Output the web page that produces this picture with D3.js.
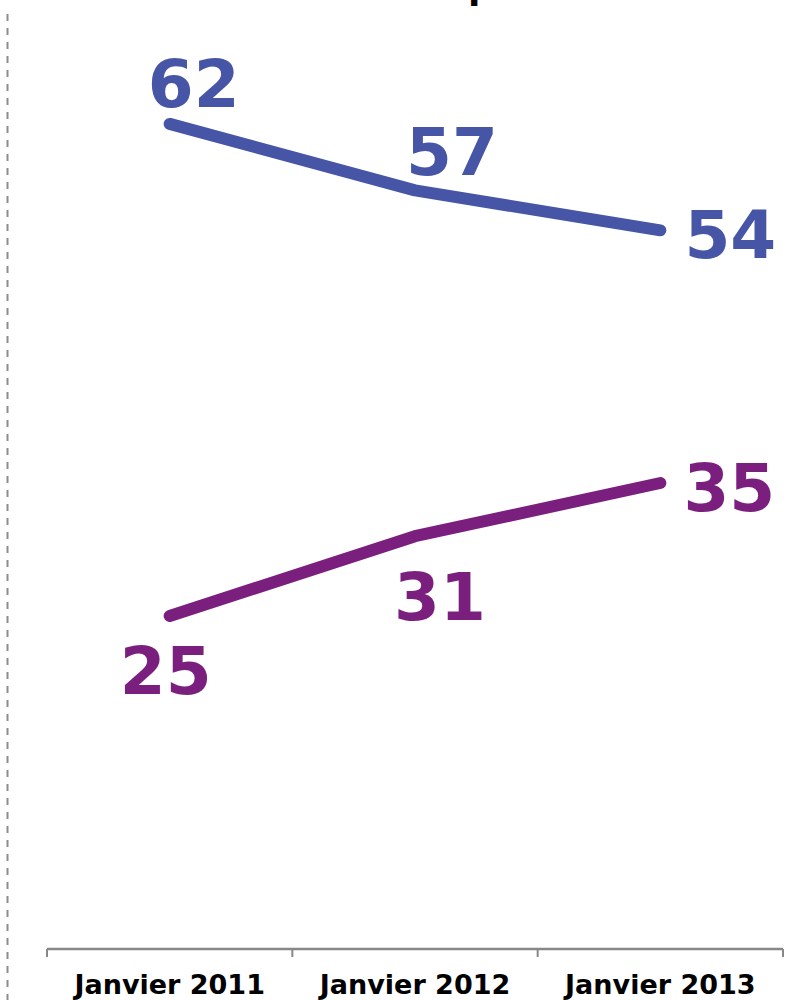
<!DOCTYPE html>
<html>
<head>
<meta charset="utf-8">
<script src="https://cdn.jsdelivr.net/npm/d3@7"></script>
<style>
  body { margin: 0; background: #fff; }
  svg { display: block; font-family: "DejaVu Sans", Verdana, sans-serif; }
</style>
</head>
<body>
<div id="chart"></div>
<script>
var categories = ["Janvier 2011", "Janvier 2012", "Janvier 2013"];
var seriesBlue = [62, 57, 54];
var seriesPurple = [25, 31, 35];

var width = 787, height = 1000;

var svg = d3.select("#chart").append("svg")
  .attr("width", width)
  .attr("height", height);

// left dashed separator
svg.append("line")
  .attr("x1", 7.5).attr("x2", 7.5)
  .attr("y1", 14).attr("y2", height)
  .style("stroke", "#8c8c8c")
  .style("stroke-width", 2)
  .style("stroke-dasharray", "7,7");

// cut-off title fragment at top
svg.append("text")
  .attr("x", 468).attr("y", -1)
  .style("font-weight", "bold")
  .style("font-size", "36px")
  .style("fill", "#000")
  .text("p");

var x = d3.scaleBand()
  .domain(categories)
  .range([47, 783]);

var y = d3.scaleLinear()
  .domain([0, 70])
  .range([948.5, 17.5]);

var xAxis = svg.append("g")
  .attr("transform", "translate(0,949)")
  .call(d3.axisBottom(x).tickSize(0).tickPadding(26))
  .attr("font-family", "DejaVu Sans, Verdana, sans-serif");

xAxis.select(".domain")
  .attr("d", "M47,0H783")
  .style("stroke", "#888")
  .style("stroke-width", 2.5);

xAxis.selectAll(".tick text")
  .style("font-size", "27px")
  .style("font-weight", "bold")
  .style("fill", "#000")
  .attr("dy", "0.71em");

// tick marks at band boundaries
var bounds = categories.map(function(c) { return x(c); }).concat([x(categories[2]) + x.bandwidth()]);
xAxis.selectAll(".bound")
  .data(bounds)
  .enter().append("line")
  .attr("x1", function(d) { return d; })
  .attr("x2", function(d) { return d; })
  .attr("y1", 0).attr("y2", 8)
  .style("stroke", "#888")
  .style("stroke-width", 2);

var cx = function(d, i) { return x(categories[i]) + x.bandwidth() / 2; };

var line = d3.line()
  .x(function(d, i) { return cx(d, i); })
  .y(function(d) { return y(d); });

function drawSeries(values, color, offsets) {
  svg.append("path")
    .datum(values)
    .attr("d", line)
    .style("fill", "none")
    .style("stroke", color)
    .style("stroke-width", 12)
    .style("stroke-linecap", "round")
    .style("stroke-linejoin", "round");

  svg.selectAll(null)
    .data(values)
    .enter().append("text")
    .attr("x", function(d, i) { return cx(d, i) + offsets[i][0]; })
    .attr("y", function(d, i) { return y(d) + offsets[i][1]; })
    .attr("text-anchor", "middle")
    .style("font-size", "66px")
    .style("font-weight", "bold")
    .style("fill", color)
    .text(function(d) { return d; });
}

drawSeries(seriesBlue, "#4655a5", [[24, -17], [37, -15], [70, 28]]);
drawSeries(seriesPurple, "#7b1f7e", [[-4, 78], [25, 84], [69, 28]]);
</script>
</body>
</html>
